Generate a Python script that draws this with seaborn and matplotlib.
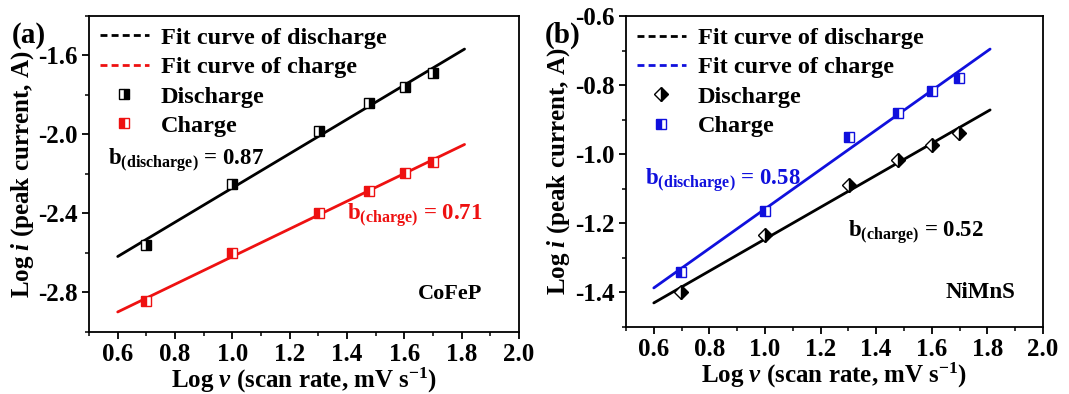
import numpy as np
import pandas as pd
import matplotlib
matplotlib.use("Agg")
import matplotlib.pyplot as plt
from matplotlib.lines import Line2D
from matplotlib.ticker import MultipleLocator
import seaborn as sns

# ---------------- data ----------------
log_v = [0.699, 1.0, 1.301, 1.477, 1.602, 1.699]

cofep_discharge = [-2.56, -2.25, -1.98, -1.843, -1.757, -1.69]
cofep_charge = [-2.844, -2.601, -2.40, -2.284, -2.197, -2.137]

nimns_discharge = [-1.400, -1.235, -1.089, -1.017, -0.974, -0.937]
nimns_charge = [-1.342, -1.163, -0.950, -0.881, -0.817, -0.780]

fit_x = [0.6, 1.81]

panel_labels = ["(a)", "(b)"]
materials = ["CoFeP", "NiMnS"]
legend_labels = ["Fit curve of discharge", "Fit curve of charge", "Discharge", "Charge"]

# ---------------- style ----------------
sns.set_style("ticks")
plt.rcParams["font.family"] = ["Liberation Serif", "DejaVu Serif"]
plt.rcParams["font.weight"] = "bold"
plt.rcParams["axes.unicode_minus"] = False
plt.rcParams["mathtext.fontset"] = "custom"
plt.rcParams["mathtext.rm"] = "Liberation Serif:bold"
plt.rcParams["mathtext.it"] = "Liberation Serif:italic:bold"
plt.rcParams["mathtext.bf"] = "Liberation Serif:bold"
for key in ["text.color", "axes.labelcolor", "xtick.color", "ytick.color", "axes.edgecolor"]:
    plt.rcParams[key] = "black"

fig = plt.figure(figsize=(10.69, 3.94), dpi=100)
axA = fig.add_axes([0.0833, 0.1574, 0.4022, 0.802])
axB = fig.add_axes([0.5856, 0.170, 0.390, 0.789])


def fit_line(x, y):
    k, b = np.polyfit(x, y, 1)
    xs = np.array(fit_x)
    return xs, k * xs + b


def draw(ax, ydis, ych, dis_color, ch_color, dis_marker, ch_marker, xlim, ylim, ymajor):
    fx, fy = fit_line(log_v, ydis)
    sns.lineplot(x=fx, y=fy, ax=ax, color=dis_color, lw=2.0, sort=False)
    fx, fy = fit_line(log_v, ych)
    sns.lineplot(x=fx, y=fy, ax=ax, color=ch_color, lw=2.0, sort=False)
    sns.lineplot(x=log_v, y=ydis, ax=ax, color=dis_color, linestyle="", marker=dis_marker,
                 markersize=7, fillstyle="right", markerfacecoloralt="white",
                 markeredgecolor=dis_color, markeredgewidth=1.0)
    sns.lineplot(x=log_v, y=ych, ax=ax, color=ch_color, linestyle="", marker=ch_marker,
                 markersize=7, fillstyle="left", markerfacecoloralt="white",
                 markeredgecolor=ch_color, markeredgewidth=1.0)
    ax.set_xlim(*xlim)
    ax.set_ylim(*ylim)
    ax.xaxis.set_major_locator(MultipleLocator(0.2))
    ax.xaxis.set_minor_locator(MultipleLocator(0.1))
    ax.yaxis.set_major_locator(MultipleLocator(ymajor))
    ax.yaxis.set_minor_locator(MultipleLocator(ymajor / 2))
    ax.tick_params(which="major", direction="out", length=5, width=1.3, labelsize=18, pad=3,
                   colors="black")
    ax.tick_params(which="minor", direction="out", length=3, width=1.1, colors="black")
    for lab in ax.get_xticklabels() + ax.get_yticklabels():
        lab.set_fontweight("bold")
    for s in ax.spines.values():
        s.set_visible(True)
        s.set_linewidth(1.3)
        s.set_color("black")
    ax.set_xlabel(r"Log $v$ (scan rate, mV s$^{-1}$)", fontsize=18, fontweight="bold", labelpad=0)
    ax.set_ylabel(r"Log $i$ (peak current, A)", fontsize=18, fontweight="bold", labelpad=2)

    handles = [
        Line2D([], [], color=dis_color, lw=2.0, linestyle=(0, (2.5, 1.5))),
        Line2D([], [], color=ch_color, lw=2.0, linestyle=(0, (2.5, 1.5))),
        Line2D([], [], color=dis_color, linestyle="", marker=dis_marker, markersize=7,
               fillstyle="right", markerfacecoloralt="white", markeredgecolor=dis_color),
        Line2D([], [], color=ch_color, linestyle="", marker=ch_marker, markersize=7,
               fillstyle="left", markerfacecoloralt="white", markeredgecolor=ch_color),
    ]
    ax.legend(handles, legend_labels, loc="upper left", frameon=False,
              prop={"family": "Liberation Serif", "weight": "bold", "size": 17.5},
              handlelength=2.0, handletextpad=0.5, labelspacing=0.3,
              borderaxespad=0.0, borderpad=0.45,
              bbox_to_anchor=(0.0, 1.0))


draw(axA, cofep_discharge, cofep_charge, "black", "#ee1111", "s", "s",
     (0.5, 2.0), (-3.0, -1.4), 0.4)
draw(axB, nimns_discharge, nimns_charge, "black", "#1010dd", "D", "s",
     (0.5, 2.0), (-1.5, -0.6), 0.2)

# annotations
axA.text(0.565, -2.13, r"b$_{\mathrm{(discharge)}}$ = 0.87", fontsize=16.5, fontweight="bold",
         color="black", va="center", ha="left")
axA.text(1.40, -2.41, r"b$_{\mathrm{(charge)}}$ = 0.71", fontsize=16.5, fontweight="bold",
         color="#ee1111", va="center", ha="left")
axB.text(0.57, -1.075, r"b$_{\mathrm{(discharge)}}$ = 0.58", fontsize=16.5, fontweight="bold",
         color="#1010dd", va="center", ha="left")
axB.text(1.30, -1.226, r"b$_{\mathrm{(charge)}}$ = 0.52", fontsize=16.5, fontweight="bold",
         color="black", va="center", ha="left")

axA.text(0.914, 0.12, materials[0], transform=axA.transAxes, fontsize=16,
         fontweight="bold", ha="right", va="center")
axB.text(0.933, 0.11, materials[1], transform=axB.transAxes, fontsize=16.5,
         fontweight="bold", ha="right", va="center")

fig.text(0.011, 0.91, panel_labels[0], fontsize=21, fontweight="bold", ha="left", va="center")
fig.text(0.510, 0.91, panel_labels[1], fontsize=21, fontweight="bold", ha="left", va="center")

fig.savefig("out.png", dpi=100)
